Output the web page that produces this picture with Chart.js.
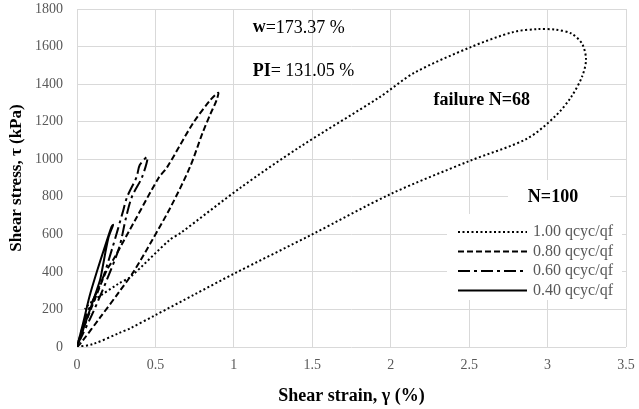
<!DOCTYPE html>
<html>
<head>
<meta charset="utf-8">
<script src="https://cdn.jsdelivr.net/npm/chart.js@4.4.1/dist/chart.umd.min.js"></script>
<style>
    html, body { margin: 0; padding: 0; background: #ffffff; }
</style>
</head>
<body>
<canvas id="loopChart" width="639" height="409"></canvas>
<script>
const xTicks = [0, 0.5, 1, 1.5, 2, 2.5, 3, 3.5];
const yTicks = [0, 200, 400, 600, 800, 1000, 1200, 1400, 1600, 1800];

const seriesLabels = ['1.00 qcyc/qf', '0.80 qcyc/qf', '0.60 qcyc/qf', '0.40 qcyc/qf'];

// 1.00 qcyc/qf (failure loop)
const strain100 = [0, 0.1, 0.27, 0.34, 0.5, 0.75, 1.0, 1.5, 2.0, 2.5, 2.87, 3.05, 3.15, 3.22, 3.245, 3.22, 3.15, 3.05, 2.94, 2.78, 2.51, 2.15, 1.93, 1.42, 1.04, 0.66, 0.59, 0.34, 0.27, 0.083, 0.05];
const stress100 = [0, 15, 75, 100, 170, 280, 390, 600, 815, 990, 1110, 1230, 1331, 1440, 1530, 1615, 1670, 1690, 1693, 1677, 1597, 1460, 1331, 1065, 847, 607, 570, 373, 340, 234, 200];

// 0.80 qcyc/qf
const strain080 = [0, 0.03, 0.15, 0.27, 0.36, 0.48, 0.6, 0.72, 0.8, 0.85, 0.89, 0.9, 0.85, 0.74, 0.575, 0.52, 0.38, 0.23, 0.19, 0.1, 0.02, 0.01];
const stress080 = [0, 27, 160, 295, 400, 570, 750, 958, 1139, 1240, 1315, 1354, 1315, 1192, 958, 900, 690, 463, 410, 225, 53, 30];

// 0.60 qcyc/qf
const strain060 = [0, 0.06, 0.16, 0.23, 0.29, 0.32, 0.38, 0.4, 0.45, 0.415, 0.35, 0.31, 0.27, 0.19, 0.1, 0.02];
const stress060 = [0, 170, 357, 540, 713, 800, 905, 969, 1012, 905, 800, 680, 532, 357, 180, 40];

// 0.40 qcyc/qf
const strain040 = [0, 0.04, 0.08, 0.13, 0.18, 0.22, 0.23, 0.2, 0.16, 0.147, 0.1, 0.05, 0.01];
const stress040 = [0, 130, 270, 410, 540, 640, 650, 580, 410, 357, 240, 120, 20];

const serif = '"Liberation Serif", "Times New Roman", serif';

function toPoints(xs, ys) {
    return xs.map((x, i) => ({ x: x, y: ys[i] }));
}

function makeSeries(label, xs, ys, dash, width) {
    return {
        label: label,
        data: toPoints(xs, ys),
        showLine: true,
        borderColor: '#000000',
        backgroundColor: '#000000',
        borderWidth: width,
        borderDash: dash,
        pointRadius: 0,
        tension: 0.3,
        fill: false
    };
}

// Annotations and legend drawn on top of the plot
const notesPlugin = {
    id: 'notes',
    afterDraw(chart) {
        const ctx = chart.ctx;
        const xs = chart.scales.x;
        const ys = chart.scales.y;
        ctx.save();
        ctx.fillStyle = '#000000';
        ctx.textBaseline = 'middle';
        ctx.textAlign = 'left';

        const drawMixed = (boldPart, rest, px, py) => {
            ctx.font = 'bold 18px ' + serif;
            ctx.fillText(boldPart, px, py);
            const w = ctx.measureText(boldPart).width;
            ctx.font = '18px ' + serif;
            ctx.fillText(rest, px + w, py);
        };
        drawMixed('w', '=173.37 %', xs.getPixelForValue(1.12), ys.getPixelForValue(1700));
        drawMixed('PI', '= 131.05 %', xs.getPixelForValue(1.12), ys.getPixelForValue(1466));

        ctx.font = 'bold 18px ' + serif;
        ctx.textAlign = 'center';
        ctx.fillText('failure N=68', xs.getPixelForValue(2.58), ys.getPixelForValue(1313));

        // legend boxes
        ctx.fillStyle = '#ffffff';
        ctx.fillRect(508, 180, 102, 34);
        ctx.fillRect(447, 214, 175, 86);
        ctx.fillStyle = '#000000';
        ctx.fillText('N=100', 553, 197);

        ctx.textAlign = 'left';
        ctx.font = '16px ' + serif;
        chart.data.datasets.forEach((ds, i) => {
            const ly = 232 + i * 19.5;
            ctx.save();
            ctx.strokeStyle = ds.borderColor;
            ctx.lineWidth = ds.borderWidth;
            ctx.setLineDash(ds.borderDash);
            ctx.beginPath();
            ctx.moveTo(458, ly);
            ctx.lineTo(527, ly);
            ctx.stroke();
            ctx.restore();
            ctx.fillStyle = '#595959';
            ctx.fillText(ds.label, 533, ly);
        });
        ctx.restore();
    }
};

const ctx = document.getElementById('loopChart').getContext('2d');
new Chart(ctx, {
    type: 'scatter',
    data: {
        datasets: [
            makeSeries(seriesLabels[0], strain100, stress100, [2, 2.5], 2),
            makeSeries(seriesLabels[1], strain080, stress080, [6, 3], 2),
            makeSeries(seriesLabels[2], strain060, stress060, [12, 4, 3, 4], 2),
            makeSeries(seriesLabels[3], strain040, stress040, [], 2)
        ]
    },
    options: {
        responsive: false,
        animation: false,
        devicePixelRatio: 1,
        layout: { padding: { top: 9, right: 13, left: 0, bottom: 0 } },
        plugins: {
            legend: { display: false },
            tooltip: { enabled: false }
        },
        scales: {
            x: {
                type: 'linear',
                min: 0,
                max: 3.5,
                afterBuildTicks: s => { s.ticks = xTicks.map(v => ({ value: v })); },
                afterFit: s => { s.height = 62; },
                grid: { color: '#d9d9d9', drawTicks: true, tickLength: 10, tickColor: 'rgba(0,0,0,0)' },
                border: { display: false },
                ticks: { color: '#595959', font: { family: serif, size: 14 }, padding: 0, callback: v => String(v) },
                title: {
                    display: true,
                    text: 'Shear strain, γ (%)',
                    color: '#000000',
                    font: { family: serif, size: 18, weight: 'bold' },
                    padding: { top: 4, bottom: 2 }
                }
            },
            y: {
                type: 'linear',
                min: 0,
                max: 1800,
                afterBuildTicks: s => { s.ticks = yTicks.map(v => ({ value: v })); },
                afterFit: s => { s.width = 77; },
                grid: { color: '#d9d9d9', drawTicks: true, tickLength: 14, tickColor: 'rgba(0,0,0,0)' },
                border: { display: false },
                ticks: { color: '#595959', font: { family: serif, size: 14 }, padding: 0, callback: v => String(v) },
                title: {
                    display: true,
                    text: 'Shear stress, τ (kPa)',
                    color: '#000000',
                    font: { family: serif, size: 17, weight: 'bold' },
                    padding: { top: 6, bottom: 0 }
                }
            }
        }
    },
    plugins: [notesPlugin]
});
</script>
</body>
</html>
